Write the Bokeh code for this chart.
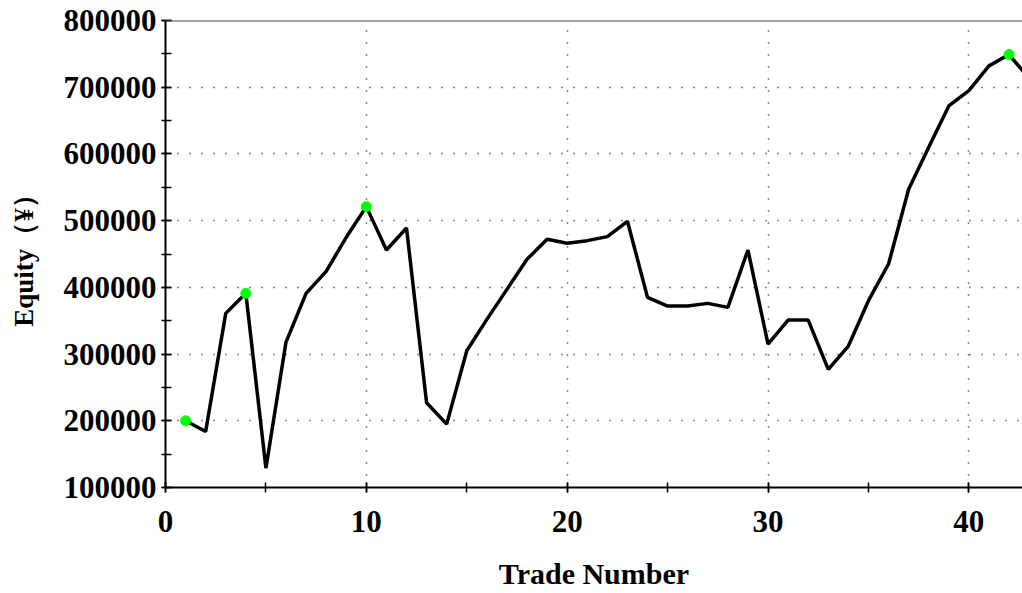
from bokeh.plotting import figure
from bokeh.models import Range1d, SingleIntervalTicker, BasicTickFormatter, Span
from bokeh.embed import file_html
from bokeh.resources import INLINE

# ---- data ----
trade_number = list(range(1, 44))
equity = [200000, 184000, 361000, 391000, 129000, 318000, 391000, 424000, 475000, 521000,
          456000, 489000, 227000, 195000, 305000, 352000, 397000, 442000, 472000, 466000,
          470000, 476000, 499000, 385000, 372000, 372000, 376000, 370000, 456000, 315000,
          351000, 351000, 277000, 312000, 380000, 435000, 547000, 610000, 672000, 695000,
          732000, 749000, 713000]
peak_trades = [1, 4, 10, 42]
peak_equity = [equity[t - 1] for t in peak_trades]

x_label = "Trade Number"
y_label = "Equity（¥）"

FONT = "Liberation Serif"

p = figure(width=1022, height=593,
           x_range=Range1d(0, 42.67), y_range=Range1d(100000, 800000),
           output_backend="svg", toolbar_location=None,
           min_border_left=165, min_border_right=0,
           min_border_top=20, min_border_bottom=106)

p.background_fill_color = "white"
p.border_fill_color = "white"
p.outline_line_color = None

# ticks
p.xaxis.ticker = SingleIntervalTicker(interval=10, num_minor_ticks=2)
p.yaxis.ticker = SingleIntervalTicker(interval=100000, num_minor_ticks=2)
p.yaxis.formatter = BasicTickFormatter(use_scientific=False)

for ax in (p.xaxis, p.yaxis):
    ax.axis_line_color = "black"
    ax.axis_line_width = 2
    ax.major_tick_line_color = "black"
    ax.minor_tick_line_color = "black"
    ax.major_tick_line_width = 1.5
    ax.minor_tick_line_width = 1.5
    ax.major_label_text_font = FONT
    ax.major_label_text_font_style = "bold"
    ax.major_label_text_font_size = "31px"
    ax.major_label_text_color = "black"
    ax.axis_label_text_font = FONT
    ax.axis_label_text_font_style = "bold"
    ax.axis_label_text_color = "black"

p.xaxis.axis_label = x_label
p.yaxis.axis_label = y_label
p.xaxis.axis_label_text_font_size = "30px"
p.yaxis.axis_label_text_font_size = "27px"

p.yaxis.major_tick_in = 6
p.yaxis.major_tick_out = 4
p.yaxis.minor_tick_in = 6
p.yaxis.minor_tick_out = 4
p.yaxis.major_label_standoff = 5
p.yaxis.axis_label_standoff = 22

p.xaxis.major_tick_in = 5
p.xaxis.major_tick_out = 5
p.xaxis.minor_tick_in = 5
p.xaxis.minor_tick_out = 5
p.xaxis.major_label_standoff = 18
p.xaxis.axis_label_standoff = 22

# grid: dotted
for g in (p.xgrid, p.ygrid):
    g.grid_line_color = "#111111"
    g.grid_line_alpha = 1.0
    g.grid_line_width = 1.5
    g.grid_line_dash = "1 11"

# top border line
p.add_layout(Span(location=800000, dimension="width", line_color="#444444", line_width=2))

# equity curve
p.line(trade_number, equity, line_color="black", line_width=3.5)
p.scatter(peak_trades, peak_equity, size=10, fill_color="#00FF00", line_color="#00FF00")

open("out.html", "w").write(file_html(p, INLINE))
